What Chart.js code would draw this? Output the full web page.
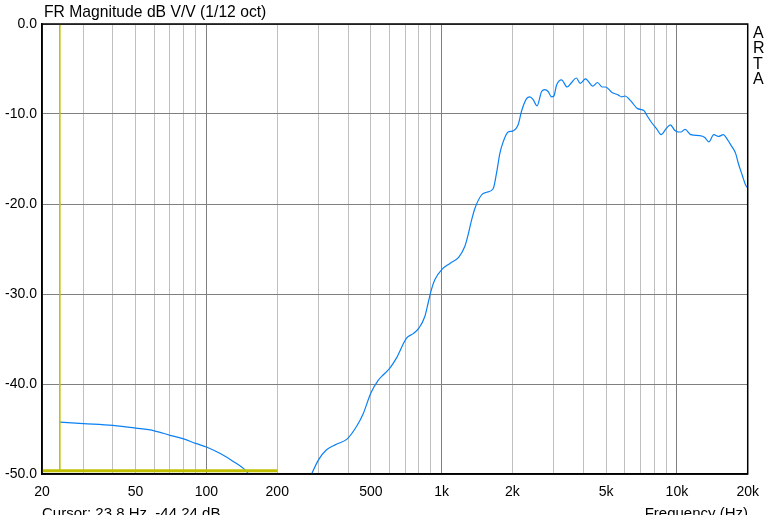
<!DOCTYPE html>
<html>
<head>
<meta charset="utf-8">
<script src="https://cdn.jsdelivr.net/npm/chart.js@4/dist/chart.umd.min.js"></script>
<style>
  body { margin: 0; background: #fff; }
  #wrap { position: relative; width: 769px; height: 515px; overflow: hidden; font-family: "Liberation Sans", Arial, sans-serif; color: #000; }
  #wrap canvas { position: absolute; left: 0; top: 0; }
  .txt { position: absolute; white-space: nowrap; }
  #title { left: 44px; top: 3px; font-size: 15.7px; line-height: 18px; }
  #arta { left: 753px; top: 25px; font-size: 16px; line-height: 15.3px; }
  #cursor { left: 42px; top: 504px; font-size: 15px; line-height: 17px; }
  #xname { right: 21px; top: 504px; font-size: 15px; line-height: 17px; }
</style>
</head>
<body>
<div id="wrap">
  <canvas id="frChart" width="769" height="515"></canvas>
  <div class="txt" id="title">FR Magnitude dB V/V (1/12 oct)</div>
  <div class="txt" id="arta">A<br>R<br>T<br>A</div>
  <div class="txt" id="cursor">Cursor: 23.8 Hz, -44.24 dB</div>
  <div class="txt" id="xname">Frequency (Hz)</div>
</div>
<script>
// low-frequency branch (from the cursor down to the bottom of the plot)
const lowFreq = [23.8, 30, 40, 50, 60, 70, 80, 90, 100, 114, 130, 148, 155];
const lowDb = [-44.24, -44.4, -44.6, -44.9, -45.2, -45.7, -46.1, -46.6, -47.0, -47.7, -48.6, -49.7, -50.4];

// main response
const mainFreq = [275, 280, 300, 324, 357, 397, 435, 464, 500, 537, 564, 600, 643, 709, 757, 800, 848, 876, 900, 936,
  1000, 1084, 1183, 1255, 1296, 1340, 1384, 1477, 1551, 1655, 1710, 1767, 1826, 1916, 2000, 2113, 2185, 2295, 2370, 2448,
  2545, 2660, 2745, 2835, 2931, 3000, 3078, 3232, 3414, 3568, 3736, 3883, 4087, 4180, 4386, 4597, 4816, 4972, 5298, 5640,
  5820, 6010, 6395, 6803, 7240, 7470, 7830, 8230, 8560, 9020, 9380, 9780, 10170, 10400, 10830, 11470, 12500, 13140, 13670, 14350,
  15000, 15750, 16270, 17100, 17780, 18250, 18960, 19590, 20000];
const mainDb = [-50.5, -50.0, -48.4, -47.3, -46.7, -46.1, -44.7, -43.3, -41.0, -39.6, -39.0, -38.3, -37.1, -34.9, -34.4, -33.8, -32.5, -31.0, -29.7, -28.4,
  -27.3, -26.6, -25.9, -24.7, -23.4, -21.8, -20.5, -19.0, -18.7, -18.3, -16.6, -14.4, -13.1, -12.0, -11.9, -11.2, -9.7, -8.3, -8.1, -8.4,
  -9.1, -7.5, -7.3, -7.5, -8.1, -8.0, -6.8, -6.2, -7.0, -6.5, -6.0, -6.6, -6.1, -6.3, -6.9, -6.5, -7.0, -7.0, -7.6, -7.9,
  -8.1, -8.0, -8.6, -9.4, -9.6, -10.2, -11.0, -11.7, -12.3, -11.6, -11.2, -11.8, -12.0, -12.0, -11.7, -12.3, -12.4, -12.6, -13.1, -12.3,
  -12.5, -12.3, -12.7, -13.6, -14.4, -15.5, -16.8, -17.9, -18.2];

// cursor markers
const cursorFreq = [23.8, 23.8];
const cursorDb = [0, -49.65];
const levelFreq = [20, 200];
const levelDb = [-49.65, -49.65];

// axes
const gridFreqs = [20, 30, 40, 50, 60, 70, 80, 90, 100, 200, 300, 400, 500, 600, 700, 800, 900,
  1000, 2000, 3000, 4000, 5000, 6000, 7000, 8000, 9000, 10000, 20000];
const majorFreqs = [100, 1000, 10000];
const labelFreqs = [20, 50, 100, 200, 500, 1000, 2000, 5000, 10000, 20000];
const labelText = ['20', '50', '100', '200', '500', '1k', '2k', '5k', '10k', '20k'];
const dbTicks = [0, -10, -20, -30, -40, -50];

const toPoints = (xs, ys) => xs.map((x, i) => ({ x: x, y: ys[i] }));

const frame = {
    id: 'frame',
    afterDraw(chart) {
        const a = chart.chartArea;
        const c = chart.ctx;
        c.save();
        c.strokeStyle = '#000';
        c.lineWidth = 1.5;
        c.strokeRect(a.left, a.top, a.right - a.left, a.bottom - a.top);
        c.restore();
    }
};

const font = { family: '"Liberation Sans", Arial, sans-serif', size: 14 };

new Chart(document.getElementById('frChart').getContext('2d'), {
    type: 'line',
    data: {
        datasets: [
            { data: toPoints(levelFreq, levelDb), borderColor: '#c0c000', borderWidth: 3, pointRadius: 0 },
            { data: toPoints(cursorFreq, cursorDb), borderColor: '#c0c000', borderWidth: 1, pointRadius: 0 },
            { data: toPoints(lowFreq, lowDb), borderColor: '#0a80f5', borderWidth: 1.2, pointRadius: 0, cubicInterpolationMode: 'monotone' },
            { data: toPoints(mainFreq, mainDb), borderColor: '#0a80f5', borderWidth: 1.2, pointRadius: 0, cubicInterpolationMode: 'monotone' }
        ]
    },
    options: {
        responsive: false,
        animation: false,
        layout: { padding: { top: 24, right: 21, left: 0, bottom: 0 } },
        plugins: { legend: { display: false }, tooltip: { enabled: false } },
        scales: {
            x: {
                type: 'logarithmic',
                min: 20,
                max: 20000,
                afterBuildTicks: s => { s.ticks = gridFreqs.map(v => ({ value: v })); },
                afterFit: s => { s.height = 41; },
                ticks: {
                    autoSkip: false, maxRotation: 0, minRotation: 0, padding: 10, color: '#000', font: font,
                    callback: v => { const i = labelFreqs.indexOf(v); return i < 0 ? '' : labelText[i]; }
                },
                grid: {
                    drawTicks: false,
                    color: ctx => (ctx.tick && majorFreqs.includes(ctx.tick.value)) ? '#808080' : '#c0c0c0'
                },
                border: { color: '#000', width: 1.5 }
            },
            y: {
                min: -50,
                max: 0,
                afterBuildTicks: s => { s.ticks = dbTicks.map(v => ({ value: v })); },
                afterFit: s => { s.width = 42; },
                ticks: { padding: 5, color: '#000', font: font, callback: v => v.toFixed(1) },
                grid: { drawTicks: false, color: '#808080' },
                border: { color: '#000', width: 1.5 }
            }
        }
    },
    plugins: [frame]
});
</script>
</body>
</html>
